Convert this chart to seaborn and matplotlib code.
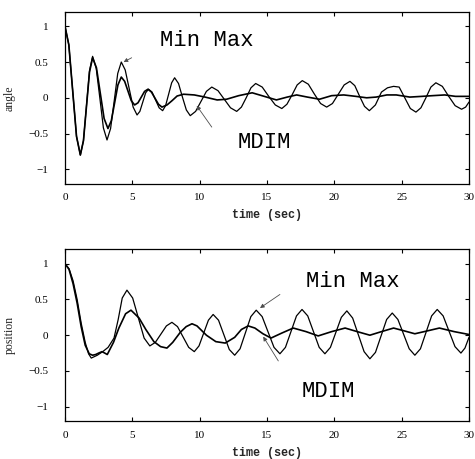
import matplotlib
matplotlib.use("Agg")
import matplotlib.pyplot as plt
import pandas as pd
import seaborn as sns

# ---------------- data ----------------
t_ang_mm = [0, 0.285, 0.57, 0.855, 1.14, 1.37, 1.595, 1.82, 2.05, 2.32, 2.585, 2.85, 3.12, 3.385, 3.65, 3.915,
            4.18, 4.47, 4.765, 5.06, 5.35, 5.56, 5.775, 5.99, 6.2, 6.46, 6.725, 6.99, 7.25, 7.47, 7.695, 7.92,
            8.14, 8.43, 8.72, 9.01, 9.3, 9.7, 10.1, 10.5, 10.9, 11.36, 11.825, 12.29, 12.75, 13.1, 13.455, 13.81,
            14.16, 14.645, 15.13, 15.615, 16.1, 16.48, 16.86, 17.24, 17.62, 18.07, 18.525, 18.98, 19.43, 19.86,
            20.295, 20.73, 21.16, 21.52, 21.88, 22.24, 22.6, 23.05, 23.5, 23.95, 24.4, 24.815, 25.23, 25.645,
            26.06, 26.43, 26.8, 27.17, 27.54, 28.02, 28.495, 28.97, 29.45, 29.75, 30.0]
v_ang_mm = [1.0, 0.74, 0.1, -0.54, -0.80, -0.60, -0.11, 0.38, 0.58, 0.41, 0.0, -0.42, -0.59, -0.43, -0.05, 0.34,
            0.50, 0.39, 0.13, -0.13, -0.24, -0.19, -0.06, 0.07, 0.12, 0.08, -0.03, -0.14, -0.18, -0.11, 0.05, 0.21,
            0.28, 0.20, 0.01, -0.17, -0.25, -0.19, -0.05, 0.09, 0.15, 0.10, -0.02, -0.14, -0.19, -0.13, 0.0, 0.14,
            0.20, 0.15, 0.02, -0.10, -0.15, -0.09, 0.04, 0.18, 0.24, 0.19, 0.05, -0.08, -0.13, -0.08,
            0.05, 0.18, 0.23, 0.17, 0.02, -0.12, -0.18, -0.10, 0.08, 0.14, 0.16, 0.15, 0.0, -0.15,
            -0.20, -0.14, 0.0, 0.15, 0.21, 0.16, 0.02, -0.11, -0.16, -0.13, -0.06]

t_ang_md = [0, 0.285, 0.57, 0.855, 1.14, 1.37, 1.595, 1.82, 2.05, 2.335, 2.62, 2.905, 3.19, 3.44, 3.685, 3.93,
            4.18, 4.43, 4.675, 4.92, 5.17, 5.42, 5.665, 5.91, 6.16, 6.42, 6.68, 6.94, 7.2, 7.575, 7.95, 8.325,
            8.8, 9.6, 10.4, 11.3, 12.0, 12.9, 13.9, 14.8, 15.7, 16.5, 17.2, 18.0, 18.9, 19.8, 20.7, 21.6,
            22.4, 23.1, 23.9, 24.6, 25.6, 26.5, 27.3, 28.2, 29.0, 30.0]
v_ang_md = [1.0, 0.74, 0.1, -0.54, -0.80, -0.60, -0.12, 0.36, 0.56, 0.42, 0.065, -0.29, -0.43, -0.32, -0.07, 0.18,
            0.29, 0.23, 0.095, -0.04, -0.10, -0.07, 0.01, 0.09, 0.12, 0.08, -0.005, -0.09, -0.13, -0.10, -0.04, 0.025,
            0.05, 0.04, 0.01, -0.03, -0.02, 0.03, 0.07, 0.02, -0.03, 0.01, 0.04, 0.01, -0.02, 0.03, 0.04, 0.02,
            0.0, 0.01, 0.04, 0.04, 0.01, 0.02, 0.03, 0.04, 0.02, 0.02]

t_pos_mm = [0, 0.3, 0.6, 0.9, 1.2, 1.5, 1.75, 1.95, 2.4, 2.8, 3.2, 3.64, 3.95, 4.25, 4.6, 5.025, 5.45, 5.875,
            6.3, 6.71, 7.12, 7.53, 7.94, 8.355, 8.77, 9.185, 9.6, 9.95, 10.3, 10.65, 11.0, 11.4, 11.8, 12.2,
            12.6, 13.0, 13.4, 13.8, 14.2, 14.64, 15.08, 15.52, 15.96, 16.37, 16.78, 17.19, 17.6, 18.025, 18.45,
            18.875, 19.3, 19.71, 20.115, 20.52, 20.93, 21.36, 21.785, 22.21, 22.64, 23.055, 23.47, 23.885, 24.3,
            24.72, 25.14, 25.56, 25.98, 26.395, 26.81, 27.225, 27.64, 28.08, 28.52, 28.96, 29.4, 29.7, 30.0]
v_pos_mm = [1.0, 0.93, 0.76, 0.5, 0.17, -0.1, -0.26, -0.32, -0.28, -0.23, -0.17, -0.04, 0.22, 0.52, 0.63, 0.52,
            0.24, -0.04, -0.15, -0.10, 0.015, 0.13, 0.18, 0.12, -0.025, -0.17, -0.23, -0.15, 0.03, 0.21, 0.29,
            0.21, 0.005, -0.20, -0.28, -0.19, 0.035, 0.26, 0.35, 0.26, 0.045, -0.17, -0.26, -0.17, 0.05, 0.27,
            0.36, 0.27, 0.05, -0.17, -0.26, -0.17, 0.04, 0.25, 0.34, 0.24, 0.005, -0.23, -0.33, -0.24, -0.01,
            0.22, 0.31, 0.22, 0.015, -0.19, -0.28, -0.19, 0.04, 0.27, 0.36, 0.27, 0.055, -0.16, -0.25, -0.18, -0.03]

t_pos_md = [0, 0.3, 0.6, 0.9, 1.2, 1.5, 1.8, 2.05, 2.28, 2.5, 2.75, 2.95, 3.14, 3.6, 4.0, 4.5, 4.9, 5.5, 6.0,
            6.6, 7.1, 7.57, 8.0, 8.56, 9.0, 9.43, 9.8, 10.5, 11.2, 11.9, 12.6, 13.1, 13.6, 14.1, 14.7, 15.3,
            16.1, 16.95, 17.9, 18.8, 19.8, 20.8, 21.7, 22.64, 23.5, 24.4, 25.2, 25.98, 26.9, 27.8, 28.9, 30.0]
v_pos_md = [1.0, 0.92, 0.72, 0.45, 0.12, -0.14, -0.26, -0.28, -0.27, -0.25, -0.23, -0.25, -0.27, -0.10, 0.10,
            0.30, 0.35, 0.24, 0.08, -0.09, -0.16, -0.18, -0.10, 0.04, 0.12, 0.16, 0.13, 0.0, -0.09, -0.11, -0.03,
            0.08, 0.13, 0.10, 0.02, -0.04, 0.03, 0.10, 0.05, -0.01, 0.05, 0.10, 0.05, 0.0, 0.05, 0.10, 0.06,
            0.02, 0.06, 0.10, 0.05, 0.01]

x_ticks = [0, 5, 10, 15, 20, 25, 30]
x_ticklabels = ["0", "5", "10", "15", "20", "25", "30"]
y_ticks = [-1, -0.5, 0, 0.5, 1]
y_ticklabels = ["\u22121", "\u22120.5", "0", "0.5", "1"]
y_labels = ["angle", "position"]
x_label = "time (sec)"

# ---------------- style ----------------
sns.set_style("ticks")
plt.rcParams['font.family'] = ['Liberation Serif', 'DejaVu Serif']
plt.rcParams['axes.linewidth'] = 0.9
plt.rcParams['axes.edgecolor'] = 'black'

fig = plt.figure(figsize=(4.75, 4.59), dpi=100)
W, H = 475.0, 459.0
ax1 = fig.add_axes([65 / W, 1 - 183.6 / H, 404 / W, 171.6 / H])
ax2 = fig.add_axes([65 / W, 1 - 421.0 / H, 404 / W, 171.6 / H])

panels = [
    (ax1, t_ang_mm, v_ang_mm, t_ang_md, v_ang_md, y_labels[0]),
    (ax2, t_pos_mm, v_pos_mm, t_pos_md, v_pos_md, y_labels[1]),
]

for ax, tm, vm, td, vd, ylab in panels:
    df_mm = pd.DataFrame({"time": tm, "value": vm})
    df_md = pd.DataFrame({"time": td, "value": vd})
    sns.lineplot(data=df_mm, x="time", y="value", ax=ax, color="black",
                 linewidth=0.9, estimator=None, sort=False)
    sns.lineplot(data=df_md, x="time", y="value", ax=ax, color="black",
                 linewidth=1.2, estimator=None, sort=False)
    ax.set_xlim(0, 30)
    ax.set_ylim(-1.2, 1.2)
    ax.set_xticks(x_ticks)
    ax.set_xticklabels(x_ticklabels)
    ax.set_yticks(y_ticks)
    ax.set_yticklabels(y_ticklabels)
    ax.tick_params(direction="in", top=True, right=True, length=3, width=0.8,
                   labelsize=8, colors="black")
    ax.tick_params(axis="x", pad=7)
    ax.tick_params(axis="y", pad=12)
    ax.set_xlabel(x_label, family="Liberation Mono", fontweight="bold", fontsize=8.5)
    ax.xaxis.set_label_coords(0.5, -0.15)
    ax.set_ylabel(ylab, fontsize=8.5)
    ax.yaxis.set_label_coords(-0.122, 0.5)
    for s in ax.spines.values():
        s.set_visible(True)
        s.set_color("black")

arrow_kw = dict(arrowstyle="-|>", color="0.3", lw=0.6, mutation_scale=6, shrinkA=0, shrinkB=0)
txt_kw = dict(family="Liberation Mono", fontsize=16, va="center", ha="left", color="black")

ax1.text(7.05, 0.80, "Min Max", **txt_kw)
ax1.text(12.85, -0.63, "MDIM", **txt_kw)
ax1.annotate("", xy=(4.35, 0.50), xytext=(4.95, 0.56), arrowprops=arrow_kw)
ax1.annotate("", xy=(9.78, -0.11), xytext=(10.9, -0.41), arrowprops=arrow_kw)

ax2.text(17.9, 0.75, "Min Max", **txt_kw)
ax2.text(17.57, -0.79, "MDIM", **txt_kw)
ax2.annotate("", xy=(14.48, 0.38), xytext=(15.96, 0.57), arrowprops=arrow_kw)
ax2.annotate("", xy=(14.72, -0.02), xytext=(15.84, -0.36), arrowprops=arrow_kw)

fig.savefig("out.png", dpi=100)
